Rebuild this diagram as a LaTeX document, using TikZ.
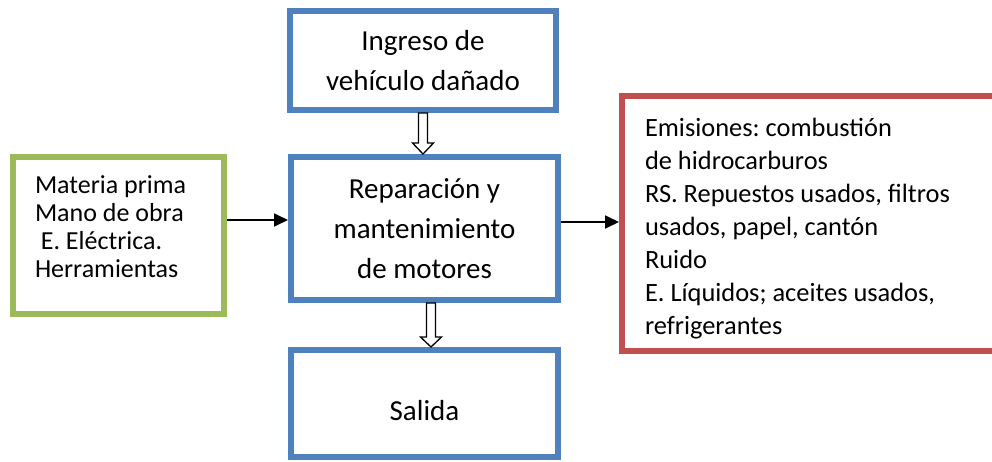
\documentclass[tikz,border=0pt]{standalone}
\usepackage{fontspec}
\setmainfont{Carlito}
\usetikzlibrary{arrows.meta,calc}

\definecolor{azul}{HTML}{4F81BD}
\definecolor{verde}{HTML}{9BBB59}
\definecolor{rojo}{HTML}{C0504D}

\begin{document}
\frenchspacing
\begin{tikzpicture}[x=1pt,y=-1pt,
    caja/.style={draw=azul, line width=6pt, fill=white, inner sep=0pt, align=center,
        font=\fontsize{29}{40}\selectfont},
    lista/.style={draw, line width=6pt, fill=white, inner ysep=0pt, align=flush left},
    flecha/.style={-{Triangle[length=14pt,width=13pt]}, line width=1.8pt},
    hueca/.style={draw=black, fill=white, line width=1.3pt, line join=miter}]
\clip (0,0) rectangle (992,461);

\node[caja, minimum width=266pt, minimum height=99pt] (ingreso) at (423,60.5)
    {Ingreso de\\vehículo dañado};
\node[caja, minimum width=267pt, minimum height=143pt] (proceso) at (424.5,228.5)
    {Reparación y\\mantenimiento\\de motores};
\node[caja, minimum width=267pt, minimum height=107pt, text height=33pt, text depth=0pt]
    (salida) at (424.5,403.5) {Salida};

\node[lista, draw=verde, minimum width=211pt, minimum height=157pt, inner xsep=22pt,
    text width=167pt, font=\fontsize{26}{28}\selectfont, text depth=102pt] (entradas) at (118.5,235.5)
    {Materia prima\\Mano de obra\\\ E. Eléctrica.\\Herramientas};
\node[lista, draw=rojo, minimum width=378pt, minimum height=255pt, inner xsep=23pt,
    text width=332pt, font=\fontsize{26.4}{33}\selectfont, text depth=193pt] (salidas) at (811,223.5)
    {Emisiones: combustión\\de hidrocarburos\\RS. Repuestos usados, filtros\\
     usados, papel, cantón\\Ruido\\E. Líquidos; aceites usados,\\refrigerantes};

% flechas
\draw[flecha] ([yshift=15.5pt]entradas.east) -- ([yshift=15.5pt]entradas.east -| proceso.west);
\draw[flecha] ([yshift=6.5pt]proceso.east) -- ([yshift=6.5pt]proceso.east -| salidas.west);

\draw[hueca] ([xshift=-4.5pt]ingreso.south) -- ++(0,30) -- ++(-6,0)
    -- (ingreso.south |- proceso.north) -- ++(10.5,-11) -- ++(-6,0)
    -- ([xshift=4.5pt]ingreso.south) -- cycle;
\draw[hueca] ([xshift=6.5pt]proceso.south) ++(-4.5,0) -- ++(0,34) -- ++(-6,0)
    -- ([xshift=6.5pt]proceso.south |- salida.north) -- ++(10.5,-10) -- ++(-6,0)
    -- ([xshift=11pt]proceso.south) -- cycle;

\end{tikzpicture}
\end{document}
